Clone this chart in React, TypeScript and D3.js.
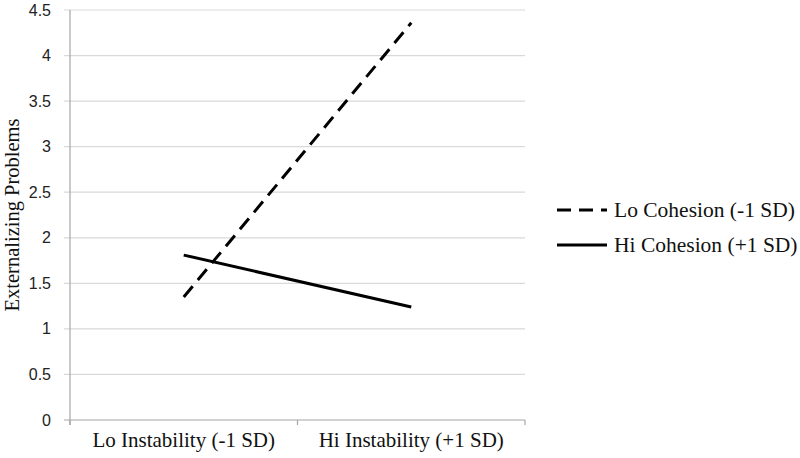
import React from "react";
import * as d3 from "d3";

const categories = ["Lo Instability (-1 SD)", "Hi Instability (+1 SD)"];
const loCohesion = [1.35, 4.36];
const hiCohesion = [1.81, 1.24];
const seriesNames = ["Lo Cohesion (-1 SD)", "Hi Cohesion (+1 SD)"];
const yTicks = [0, 0.5, 1, 1.5, 2, 2.5, 3, 3.5, 4, 4.5];

const W = 800;
const H = 458;
const left = 70;
const right = 525;
const top = 10;
const bottom = 420;

export default function App() {
  const x = d3.scaleBand<string>().domain(categories).range([left, right]);
  const y = d3.scaleLinear().domain([0, 4.5]).range([bottom, top]);
  const line = d3
    .line<number>()
    .x((_, i) => (x(categories[i]) as number) + x.bandwidth() / 2)
    .y((d) => y(d));
  const series = [
    { name: seriesNames[0], values: loCohesion, dash: "14,8" },
    { name: seriesNames[1], values: hiCohesion, dash: undefined },
  ];
  const sans = "'Liberation Sans', Arial, sans-serif";
  const serif = "'Liberation Serif', 'Times New Roman', serif";
  return (
    <svg
      width={W}
      height={H}
      style={{ position: "fixed", left: 0, top: 0, background: "#fff" }}
    >
      <rect width={W} height={H} fill="#fff" />
      {yTicks.map((t) => (
        <g key={t}>
          <line
            x1={left - 6}
            x2={right}
            y1={y(t)}
            y2={y(t)}
            stroke={t === 0 ? "#a6a6a6" : "#d9d9d9"}
            strokeWidth={1.2}
          />
          <text
            x={51}
            y={y(t)}
            dy="0.35em"
            textAnchor="end"
            fontFamily={sans}
            fontSize={16}
            fill="#222"
          >
            {t}
          </text>
        </g>
      ))}
      <line x1={left} x2={left} y1={top} y2={bottom + 5} stroke="#a6a6a6" strokeWidth={1.2} />
      {[left, (x(categories[1]) as number), right].map((px, i) => (
        <line key={i} x1={px} x2={px} y1={bottom} y2={bottom + 5} stroke="#a6a6a6" strokeWidth={1.2} />
      ))}
      {categories.map((c) => (
        <text
          key={c}
          x={(x(c) as number) + x.bandwidth() / 2}
          y={447}
          textAnchor="middle"
          fontFamily={serif}
          fontSize={21}
          fill="#111"
        >
          {c}
        </text>
      ))}
      <text
        transform={`translate(19,${(top + bottom) / 2}) rotate(-90)`}
        textAnchor="middle"
        fontFamily={serif}
        fontSize={20.5}
        fill="#111"
      >
        Externalizing Problems
      </text>
      {series.map((s) => (
        <path
          key={s.name}
          d={line(s.values) as string}
          fill="none"
          stroke="#000"
          strokeWidth={3}
          strokeDasharray={s.dash}
        />
      ))}
      {series.map((s, i) => (
        <g key={s.name} transform={`translate(557,${210 + i * 35})`}>
          <line x1={0} x2={50} y1={0} y2={0} stroke="#000" strokeWidth={3} strokeDasharray={s.dash} />
          <text x={57} y={0} dy="0.33em" fontFamily={serif} fontSize={21.5} fill="#111">
            {s.name}
          </text>
        </g>
      ))}
    </svg>
  );
}
